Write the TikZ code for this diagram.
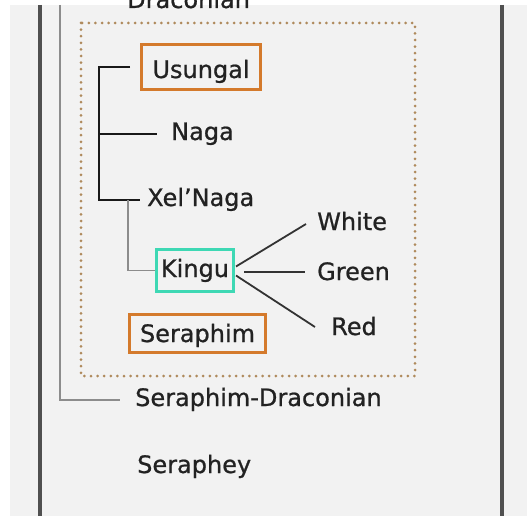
\documentclass[tikz,border=0pt]{standalone}
\usepackage{fontspec}
\setmainfont[FakeBold=0.8]{DejaVu Sans}
\definecolor{bg}{RGB}{242,242,242}
\definecolor{txt}{RGB}{34,34,34}
\definecolor{orangebox}{RGB}{212,122,44}
\definecolor{tealbox}{RGB}{62,216,180}
\definecolor{dotcol}{RGB}{175,138,92}
\definecolor{frame}{RGB}{80,80,80}
\definecolor{gryline}{RGB}{140,140,140}
\tikzset{
  lbl/.style={inner sep=0pt, anchor=base west, text height=12pt, text depth=0pt, text=txt, font=\fontsize{24}{28}\selectfont},
  boxed/.style={draw=#1, line width=3pt, inner sep=0pt, text=txt, font=\fontsize{24}{28}\selectfont, text depth=0pt},
  blk/.style={draw=black!90, line width=2pt},
  kline/.style={draw=black!80, line width=1.8pt},
  gry/.style={draw=gryline, line width=1.2pt},
  framebar/.style={draw=frame, line width=3.5pt},
}
\begin{document}
\begin{tikzpicture}[x=1pt,y=-1pt]
\useasboundingbox (0,0) rectangle (527,516);
\clip (0,0) rectangle (527,516);
\fill[white] (0,0) rectangle (527,516);
\fill[bg] (10,5) rectangle (527,516);
% frame bars
\draw[framebar] (40,5) -- (40,516);
\draw[framebar] (502,5) -- (502,516);
% dotted box
\draw[dotcol, line width=3pt, line cap=round, dash pattern=on 0pt off 6.6pt] (81,23) rectangle (415,376);
% cut-off top label
\node[lbl] (drac) at (127,8) {Draconian};
% boxed nodes
\node[boxed=orangebox, minimum width=119pt, minimum height=45pt, text height=22pt] (usungal) at (201,67) {Usungal};
\node[boxed=tealbox, minimum width=77pt, minimum height=42pt, text height=13pt] (kingu) at (195,270.5) {Kingu};
\node[boxed=orangebox, minimum width=136pt, minimum height=38pt, text height=17pt] (seraphim) at (197.5,333.5) {Seraphim};
% plain labels
\node[lbl] (naga) at (171,140) {Naga};
\node[lbl] (xel) at (147,206) {Xel'Naga};
\node[lbl] (white) at (317,230) {White};
\node[lbl] (green) at (317,280) {Green};
\node[lbl] (red) at (331,335) {Red};
\node[lbl] (sd) at (135,406) {Seraphim-Draconian};
\node[lbl] (seraphey) at (137,473) {Seraphey};
% tree connectors
\coordinate (trunktop) at (99,67);
\coordinate (trunkbot) at (99,200);
\draw[blk] ([xshift=-10pt]usungal.west) -- (trunktop) -- (trunkbot) -- ([xshift=-7pt]xel.west);
\draw[blk] (99,134) -- ([xshift=-14pt]naga.west);
\coordinate (kbranch) at (128,200);
\draw[gry] (kbranch) |- (kingu.west);
\draw[kline] ([xshift=1pt,yshift=4pt]kingu.east) -- ([xshift=-11pt]white.west);
\draw[kline] ([xshift=9pt,yshift=-1.5pt]kingu.east) -- ([xshift=-12pt,yshift=-1.5pt]green.west |- kingu.east);
\draw[kline] ([xshift=1pt,yshift=-5pt]kingu.east) -- ([xshift=-16pt,yshift=2pt]red.west);
\coordinate (lefttop) at (60,5);
\draw[gry] (lefttop) |- ([xshift=-15pt]sd.west);
\end{tikzpicture}
\end{document}
